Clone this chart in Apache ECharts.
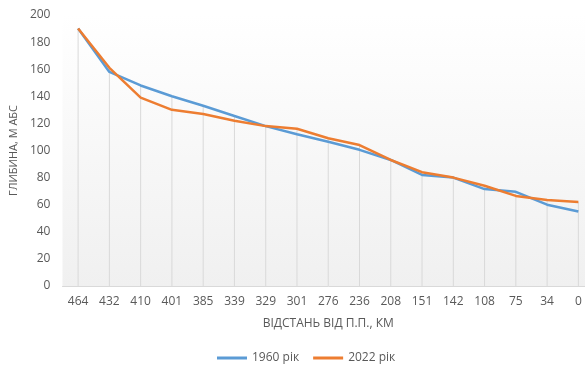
<!DOCTYPE html>
<html><head><meta charset="utf-8">
<script src="https://cdn.jsdelivr.net/npm/echarts@6/dist/echarts.min.js"></script>
<style>html,body{margin:0;padding:0;background:#fff;overflow:hidden;width:585px;height:367px}#c{width:594px;height:367px}</style>
</head><body><div id="c"></div>
<script>
const categories = ['464','432','410','401','385','339','329','301','276','236','208','151','142','108','75','34','0'];
const values1960 = [190,158,148,140,133,125.5,118,112,106.5,100.5,93,82,80,71.5,69.5,60,55];
const values2022 = [190,161,139,130,127,122,118,116,109,104,93,84,80,74,66.5,63.5,62];
const yTicks = [0,20,40,60,80,100,120,140,160,180,200];
const dropLines = values1960.map((v,i)=>Math.max(v, values2022[i]));
const font = 'Open Sans';
const chart = echarts.init(document.getElementById('c'), null, {renderer:'canvas'});
chart.setOption({
  animation:false,
  textStyle:{fontFamily:font},
  grid:{left:62, top:15, right:0, bottom:81, show:true, borderWidth:0, containLabel:false,
    backgroundColor:{type:'linear',x:0,y:0,x2:0,y2:1,colorStops:[{offset:0,color:'#ffffff'},{offset:1,color:'#f0f0f0'}]}},
  legend:{top:347, left:212, itemWidth:30, itemHeight:3, itemGap:14,
    textStyle:{color:'#595959', fontSize:12, fontFamily:font},
    data:[{name:'1960 рік', icon:'rect'},{name:'2022 рік', icon:'rect'}]},
  xAxis:{type:'category', data:categories, boundaryGap:true,
    name:'ВІДСТАНЬ ВІД П.П., КМ', nameLocation:'middle', nameGap:32,
    nameTextStyle:{color:'#595959', fontSize:12, fontFamily:font},
    axisLine:{show:true, lineStyle:{color:'#d9d9d9', width:1}},
    axisTick:{show:false},
    axisLabel:{color:'#595959', fontSize:12, margin:10, interval:0, fontFamily:font},
    splitLine:{show:false}},
  yAxis:{type:'value', min:0, max:200, interval:20,
    name:'ГЛИБИНА, М АБС', nameLocation:'middle', nameGap:38, nameRotate:90,
    nameTextStyle:{color:'#595959', fontSize:11, fontFamily:font},
    axisLine:{show:false}, axisTick:{show:false},
    axisLabel:{color:'#595959', fontSize:12, margin:12, fontFamily:font,
      formatter:(v)=> yTicks.includes(v) ? String(v) : ''},
    splitLine:{show:false}},
  series:[
    {name:'drop', type:'bar', data:dropLines, barWidth:1, barGap:'-100%', z:1, silent:true,
      itemStyle:{color:'#d9d9d9'}, legendHoverLink:false},
    {name:'1960 рік', type:'line', data:values1960, symbol:'none', z:3,
      lineStyle:{color:'#5B9BD5', width:2.5}, itemStyle:{color:'#5B9BD5'}},
    {name:'2022 рік', type:'line', data:values2022, symbol:'none', z:4,
      lineStyle:{color:'#ED7D31', width:2.5}, itemStyle:{color:'#ED7D31'}}
  ]
});
</script></body></html>
